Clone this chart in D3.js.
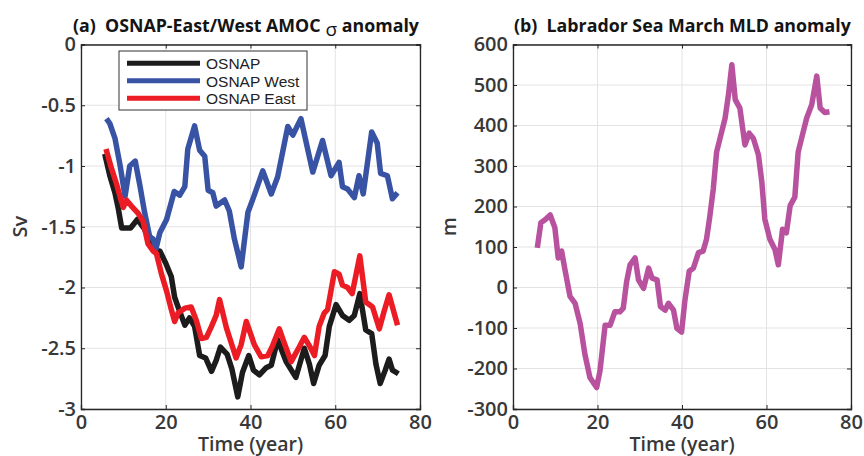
<!DOCTYPE html>
<html lang="en">
<head>
<meta charset="UTF-8">
<title>OSNAP AMOC and Labrador Sea MLD anomaly</title>
<script src="https://d3js.org/d3.v7.min.js"></script>
<style>
    body { margin: 0; background: #fff; }
    text { white-space: pre; }
</style>
</head>
<body>
<script>

var w = 864;
var h = 456;

// (a) OSNAP total / West / East, Sv
var osnapYears = [5.6, 6.8, 8, 8.8, 9.6, 11.7, 13.3, 15, 16.5, 17.8, 18.6, 20, 21.3, 22.1, 22.9, 24.5, 25.6, 26.8, 28, 29.4,
    30.8, 31.9, 32.9, 34.5, 35.6, 37, 38.1, 39.6, 40.7, 42.1, 43.7, 44.9, 46.4, 48.4, 50.7, 52.7, 53.9, 54.9, 56.2, 57.6,
    58.6, 60.2, 61.7, 63.3, 64.5, 65.8, 67.2, 68.6, 69.6, 70.6, 71.8, 72.7, 73.5, 74.9];
var osnapVals = [-0.90, -1.08, -1.22, -1.35, -1.51, -1.51, -1.44, -1.52, -1.65, -1.70, -1.70, -1.80, -1.91, -2.08, -2.16, -2.31, -2.25, -2.32, -2.56, -2.58,
    -2.69, -2.60, -2.49, -2.55, -2.67, -2.90, -2.70, -2.56, -2.68, -2.72, -2.66, -2.64, -2.43, -2.61, -2.74, -2.50, -2.63, -2.79, -2.64, -2.56,
    -2.32, -2.14, -2.23, -2.27, -2.23, -2.05, -2.35, -2.38, -2.63, -2.79, -2.68, -2.59, -2.68, -2.71];

var westYears = [6, 6.8, 8, 9.2, 10.4, 11.5, 12.8, 13.9, 15, 16.2, 17, 17.7, 18.6, 20.2, 22, 23.3, 24.5, 25.2, 26.8, 28,
    29.2, 30, 31.1, 31.9, 33.9, 35, 36.2, 37.8, 39.4, 40.9, 42.9, 44.9, 46.4, 48.8, 50, 51.9, 53.1, 54.7, 57, 59,
    60.9, 61.7, 62.9, 64.5, 65.6, 66.6, 68.6, 69.9, 70.7, 72.3, 73.5, 74.7];
var westVals = [-0.61, -0.65, -0.77, -0.99, -1.25, -1.00, -0.96, -1.16, -1.38, -1.58, -1.60, -1.68, -1.55, -1.44, -1.21, -1.24, -1.17, -0.86, -0.67, -0.87,
    -0.92, -1.20, -1.22, -1.33, -1.28, -1.37, -1.60, -1.83, -1.38, -1.24, -1.04, -1.23, -1.09, -0.675, -0.745, -0.61, -0.80, -1.05, -0.79, -1.08,
    -0.97, -1.17, -1.19, -1.26, -1.08, -1.23, -0.72, -0.81, -1.06, -1.08, -1.27, -1.22];

var eastYears = [5.9, 7.2, 8.4, 9.6, 10, 10.7, 11.9, 13.5, 14.7, 15.8, 17, 17.8, 19, 20.2, 21.3, 22.1, 22.9, 24.5, 26, 27.2,
    28.4, 29.6, 30.8, 31.9, 32.7, 34.3, 36.6, 37.8, 39, 40.9, 42.5, 44.1, 45.2, 46.8, 48, 49.6, 51.5, 52.7, 53.9, 55.1,
    56.2, 57.4, 58.2, 59.8, 60.9, 61.7, 62.9, 64, 65.8, 67.2, 68.8, 70.4, 71.5, 72.7, 74.7];
var eastVals = [-0.86, -1.02, -1.15, -1.30, -1.34, -1.28, -1.33, -1.39, -1.46, -1.64, -1.70, -1.72, -1.89, -2.03, -2.18, -2.28, -2.21, -2.17, -2.16, -2.27,
    -2.42, -2.41, -2.32, -2.23, -2.10, -2.33, -2.58, -2.47, -2.28, -2.47, -2.57, -2.56, -2.48, -2.34, -2.46, -2.61, -2.49, -2.41, -2.48, -2.56,
    -2.32, -2.21, -2.18, -1.87, -1.89, -1.98, -2.00, -2.05, -1.74, -2.12, -2.16, -2.34, -2.20, -2.06, -2.31];

// (b) Labrador Sea March MLD anomaly, m
var mldYears = [5.75, 6.6, 7.8, 8.8, 9.9, 10.7, 11.5, 12.3, 13.5, 14.7, 15.9, 17, 18.2, 19.8, 20.6, 21.8, 23, 24.1, 25.3, 26.1,
    26.9, 27.7, 28.9, 29.7, 30.9, 32.1, 32.9, 34.1, 34.9, 36, 36.8, 38, 38.8, 39.9, 40.7, 41.7, 42.7, 43.9, 45, 45.8,
    46.6, 47.4, 48.2, 49.4, 50.2, 51, 51.8, 52.6, 53.7, 54.9, 55.9, 56.9, 58.1, 58.9, 59.6, 60.8, 62, 62.8, 63.8, 64.7,
    65.6, 66.7, 67.5, 68.7, 69.5, 70.7, 71.9, 72.7, 73.8, 74.9];
var mldVals = [98, 160, 169, 179, 148, 73, 90, 44, -22, -39, -89, -164, -222, -247, -205, -93, -93, -60, -60, -51,
    15, 56, 73, 19, -2, 48, 23, 19, -47, -56, -39, -56, -101, -110, -31, 40, 48, 86, 90, 119,
    177, 243, 335, 385, 418, 476, 550, 464, 443, 352, 381, 368, 327, 260, 169, 119, 94, 56, 144, 135,
    202, 223, 335, 385, 418, 451, 522, 443, 432, 434];

var xTicks = [0, 20, 40, 60, 80];
var xTickLabels = ['0', '20', '40', '60', '80'];
var yTicksA = [0, -0.5, -1, -1.5, -2, -2.5, -3];
var yTickLabelsA = ['0', '-0.5', '-1', '-1.5', '-2', '-2.5', '-3'];
var yTicksB = [600, 500, 400, 300, 200, 100, 0, -100, -200, -300];
var yTickLabelsB = ['600', '500', '400', '300', '200', '100', '0', '-100', '-200', '-300'];

var legendNames = ['OSNAP', 'OSNAP West', 'OSNAP East'];
var legendColors = ['#1c1c1c', '#3953a4', '#ec1c24'];

var tickFont = '"Open Sans", "DejaVu Sans", sans-serif';
var axisCol = '#262626';
var plotTop = 44.5, plotBottom = 409;

var svg = d3.select('body').append('svg').attr('width', w).attr('height', h);

function panel(p) {
    var x = d3.scaleLinear().domain([0, 80]).range([p.x0, p.x1]);
    var y = d3.scaleLinear().domain(p.ydom).range([plotBottom, plotTop]);
    var g = svg.append('g');

    // grid
    g.selectAll('.gx').data(xTicks).enter().append('line')
        .attr('x1', function (d) { return x(d); }).attr('x2', function (d) { return x(d); })
        .attr('y1', plotTop).attr('y2', plotBottom)
        .attr('stroke', '#e3e3e3').attr('stroke-width', 1);
    g.selectAll('.gy').data(p.yticks).enter().append('line')
        .attr('x1', p.x0).attr('x2', p.x1)
        .attr('y1', function (d) { return y(d); }).attr('y2', function (d) { return y(d); })
        .attr('stroke', '#e3e3e3').attr('stroke-width', 1);

    // data lines
    var line = d3.line().x(function (d) { return x(d[0]); }).y(function (d) { return y(d[1]); });
    p.series.forEach(function (s) {
        g.append('path').datum(d3.zip(s.xs, s.ys))
            .attr('d', line)
            .attr('fill', 'none')
            .attr('stroke', s.color)
            .attr('stroke-width', 5.5)
            .attr('stroke-linejoin', 'round');
    });

    // axes (inward ticks) + box
    var ax = g.append('g').attr('transform', 'translate(0,' + plotBottom + ')')
        .call(d3.axisBottom(x).tickValues(xTicks).tickSize(-4).tickPadding(6)
            .tickFormat(function (d, i) { return xTickLabels[i]; }));
    g.append('g').attr('transform', 'translate(' + p.x0 + ',0)')
        .call(d3.axisLeft(y).tickValues(p.yticks).tickSize(-4).tickPadding(5)
            .tickFormat(function (d, i) { return p.ylabels[i]; }));
    g.append('g').attr('transform', 'translate(0,' + plotTop + ')')
        .call(d3.axisTop(x).tickValues(xTicks).tickSize(-4).tickFormat(''));
    g.append('g').attr('transform', 'translate(' + p.x1 + ',0)')
        .call(d3.axisRight(y).tickValues(p.yticks).tickSize(-4).tickFormat(''));

    g.selectAll('.domain').attr('stroke', axisCol).attr('stroke-width', 1.3);
    g.selectAll('.tick line').attr('stroke', axisCol);
    g.selectAll('.tick text')
        .attr('font-family', tickFont).attr('font-size', 20).attr('font-weight', 600)
        .attr('fill', '#383838');
    ax.selectAll('.tick text').attr('dy', '0.72em');

    // labels
    g.append('text').attr('x', (p.x0 + p.x1) / 2).attr('y', 451)
        .attr('text-anchor', 'middle')
        .attr('font-family', tickFont).attr('font-size', 19.5).attr('font-weight', 600).attr('fill', '#383838')
        .text('Time (year)');
    g.append('text').attr('transform', 'translate(' + p.ylabX + ',' + ((plotTop + plotBottom) / 2) + ') rotate(-90)')
        .attr('text-anchor', 'middle').attr('dy', '0.35em')
        .attr('font-family', tickFont).attr('font-size', 20).attr('font-weight', 600).attr('fill', '#383838')
        .text(p.ylab);

    var t = g.append('text').attr('x', p.titleX).attr('y', 32)
        .attr('font-family', tickFont).attr('font-size', 17.8).attr('font-weight', 700).attr('fill', '#141414');
    p.title(t);
    return {x: x, y: y, g: g};
}

var pa = panel({
    x0: 81, x1: 420, ydom: [-3, 0],
    yticks: yTicksA, ylabels: yTickLabelsA, ylab: 'Sv', ylabX: 20, titleX: 73,
    series: [
        {xs: osnapYears, ys: osnapVals, color: legendColors[0]},
        {xs: westYears, ys: westVals, color: legendColors[1]},
        {xs: eastYears, ys: eastVals, color: legendColors[2]}
    ],
    title: function (t) {
        t.append('tspan').text('(a)  OSNAP-East/West AMOC');
        t.append('tspan').attr('dy', 4).attr('font-weight', 400).attr('font-size', 19).text(' \u03c3');
        t.append('tspan').attr('dy', -4).text(' anomaly');
    }
});

panel({
    x0: 513, x1: 851, ydom: [-300, 600],
    yticks: yTicksB, ylabels: yTickLabelsB, ylab: 'm', ylabX: 449, titleX: 514,
    series: [{xs: mldYears, ys: mldVals, color: '#b8529e'}],
    title: function (t) { t.text('(b)  Labrador Sea March MLD anomaly'); }
});

// legend in panel (a)
var leg = pa.g.append('g');
leg.append('rect').attr('x', 119).attr('y', 51).attr('width', 188).attr('height', 59)
    .attr('fill', '#fff').attr('stroke', '#333').attr('stroke-width', 1);
legendNames.forEach(function (name, i) {
    var ly = 63.3 + i * 17.5;
    leg.append('line').attr('x1', 127).attr('x2', 200).attr('y1', ly).attr('y2', ly)
        .attr('stroke', legendColors[i]).attr('stroke-width', 5);
    leg.append('text').attr('x', 206).attr('y', ly + 6)
        .attr('font-family', '"Liberation Sans", Arial, sans-serif').attr('font-size', 15.5).attr('fill', '#222')
        .text(name);
});

</script>
</body>
</html>
